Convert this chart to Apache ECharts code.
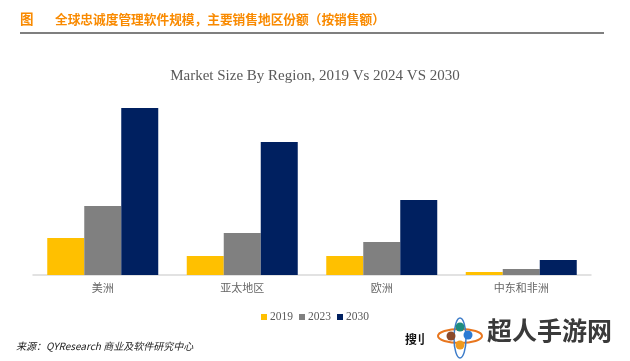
<!DOCTYPE html>
<html><head><meta charset="utf-8">
<script src="https://cdn.jsdelivr.net/npm/echarts@6/dist/echarts.min.js"></script>
<style>html,body{margin:0;padding:0;background:#fff}#c{width:630px;height:361px}</style>
</head><body><div id="c"></div>
<script>
const categories = ['美洲', '亚太地区', '欧洲', '中东和非洲'];
const s2019 = [37, 19, 19, 3];
const s2023 = [69, 42, 33, 6];
const s2030 = [167, 133, 75, 15];
const seriesNames = ['2019', '2023', '2030'];

const chart = echarts.init(document.getElementById('c'));
const cjk = '"Noto Sans CJK SC", sans-serif';
chart.setOption({
  animation: false,
  title: {
    text: 'Market Size By Region, 2019 Vs 2024 VS 2030',
    left: 'center', top: 64,
    textStyle: { fontFamily: '"Liberation Serif", serif', fontSize: 15, fontWeight: 'normal', color: '#595959' }
  },
  legend: {
    data: seriesNames, top: 306, left: 'center',
    itemWidth: 6, itemHeight: 6, itemGap: 6, icon: 'rect',
    textStyle: { fontFamily: '"Liberation Serif", serif', fontSize: 11.5, color: '#595959', padding: [0, 0, 0, -2] }
  },
  grid: { left: 33, right: 39, top: 95, bottom: 86 },
  xAxis: {
    type: 'category', data: categories,
    axisLine: { lineStyle: { color: '#d9d9d9', width: 1.5 } },
    axisTick: { show: false },
    axisLabel: { fontFamily: cjk, fontSize: 11, color: '#666666', margin: 7 }
  },
  yAxis: { type: 'value', min: 0, max: 180, show: false, splitLine: { show: false } },
  series: [
    { name: '2019', type: 'bar', data: s2019, barWidth: 37, barGap: '0%', itemStyle: { color: '#FFC000' } },
    { name: '2023', type: 'bar', data: s2023, barWidth: 37, barGap: '0%', itemStyle: { color: '#808080' } },
    { name: '2030', type: 'bar', data: s2030, barWidth: 37, barGap: '0%', itemStyle: { color: '#002060' } }
  ],
  graphic: [
    { type: 'text', left: 20, top: 12, style: { text: '图', font: 'bold 13.5px ' + cjk, fill: '#F98A00' } },
    { type: 'text', left: 55, top: 13, style: { text: '全球忠诚度管理软件规模，主要销售地区份额（按销售额）', font: 'bold 12.7px ' + cjk, fill: '#F98A00' } },
    { type: 'line', shape: { x1: 20, y1: 33, x2: 604, y2: 33 }, style: { stroke: '#000', lineWidth: 1.2 } },
    { type: 'text', left: 16, top: 341, style: { text: '来源：QYResearch 商业及软件研究中心', font: 'italic 10px ' + cjk, fill: '#222' } },
    { type: 'text', left: 405, top: 333, style: { text: '搜', font: 'bold 12px ' + cjk, fill: '#111' } },
    { type: 'text', left: 413, top: 333, style: { text: '刂', font: 'bold 12px ' + cjk, fill: '#111' } },
    { type: 'ellipse', shape: { cx: 460, cy: 336, rx: 22, ry: 7 }, style: { fill: 'none', stroke: '#E8761E', lineWidth: 2 } },
    { type: 'ellipse', shape: { cx: 460, cy: 338, rx: 6, ry: 20 }, style: { fill: 'none', stroke: '#3D7CC9', lineWidth: 1.5 } },
    { type: 'circle', shape: { cx: 460, cy: 327, r: 4.5 }, style: { fill: '#1E8C7E' } },
    { type: 'circle', shape: { cx: 451, cy: 336, r: 4.5 }, style: { fill: '#8B4A2B' } },
    { type: 'circle', shape: { cx: 468, cy: 335, r: 4.5 }, style: { fill: '#2A7BD4' } },
    { type: 'circle', shape: { cx: 460, cy: 345, r: 4.5 }, style: { fill: '#F09A1E' } },
    { type: 'text', left: 487, top: 318, style: { text: '超人手游网', font: 'bold 25px ' + cjk, fill: '#3a3a3a' } }
  ]
});
</script></body></html>
